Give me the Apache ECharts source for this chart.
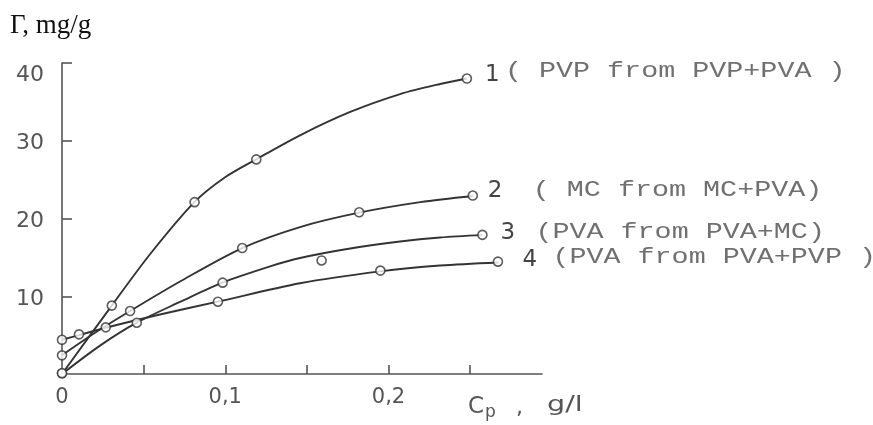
<!DOCTYPE html>
<html>
<head>
<meta charset="utf-8">
<script src="https://cdn.jsdelivr.net/npm/echarts@6/dist/echarts.min.js"></script>
<style>
  html, body { margin: 0; padding: 0; background: #fff; }
  #chart { width: 873px; height: 425px; }
</style>
</head>
<body>
<div id="chart"></div>
<script>
// Adsorption isotherms: polymer concentration Cp (g/l) vs adsorbed amount Γ (mg/g)

// Measured points (open circles)
const cpPvpFromPvpPva = [0, 0.0305, 0.0812, 0.119, 0.248];
const gammaPvpFromPvpPva = [0.1, 8.8, 22.1, 27.6, 38.0];

const cpMcFromMcPva = [0, 0.0417, 0.1104, 0.182, 0.2516];
const gammaMcFromMcPva = [2.4, 8.1, 16.2, 20.8, 22.95];

const cpPvaFromPvaMc = [0, 0.0458, 0.0984, 0.159, 0.2575];
const gammaPvaFromPvaMc = [0.1, 6.6, 11.75, 14.6, 17.9];

const cpPvaFromPvaPvp = [0, 0.0104, 0.0268, 0.0955, 0.195, 0.267];
const gammaPvaFromPvaPvp = [4.4, 5.1, 6.0, 9.3, 13.3, 14.45];

// Hand-drawn smoothing curves through the measurements
const cpCurve1 = [0, 0.0305, 0.0539, 0.0811, 0.0999, 0.1189, 0.1458, 0.1765, 0.2071, 0.2316, 0.248];
const gammaCurve1 = [0, 8.8, 15.4, 22.1, 25.3, 27.6, 30.7, 33.7, 36.0, 37.3, 38.0];

const cpCurve2 = [0, 0.0202, 0.0417, 0.0723, 0.1104, 0.1458, 0.182, 0.2194, 0.2516];
const gammaCurve2 = [2.4, 5.3, 8.1, 11.9, 16.2, 18.9, 20.75, 22.1, 22.9];

const cpCurve3 = [0, 0.0233, 0.0458, 0.0723, 0.0982, 0.1275, 0.1458, 0.1765, 0.2071, 0.2316, 0.2575];
const gammaCurve3 = [0, 3.65, 6.6, 9.27, 11.75, 13.85, 14.92, 16.14, 17.04, 17.56, 17.9];

const cpCurve4 = [0, 0.0104, 0.0268, 0.06, 0.0954, 0.1458, 0.1949, 0.2316, 0.2673];
const gammaCurve4 = [4.4, 5.0, 5.95, 7.65, 9.3, 11.67, 13.2, 13.95, 14.35];

const curveNumbers = ['1', '2', '3', '4'];
const curveNames = ['( PVP from PVP+PVA )', '( MC from MC+PVA)', '(PVA from PVA+MC)', '(PVA from PVA+PVP )'];

const xTickValues = [0.05, 0.1, 0.15, 0.2, 0.25];
const xLabelValues = [0, 0.1, 0.2];
const yTickValues = [10, 20, 30, 40];
const yLabelValues = [10, 20, 30, 40];

const INK = '#333';
const AXIS = '#555';
const GREY_TEXT = '#555';

function zip(xs, ys) { return xs.map((x, i) => [x, ys[i]]); }

const curves = [
  zip(cpCurve1, gammaCurve1),
  zip(cpCurve2, gammaCurve2),
  zip(cpCurve3, gammaCurve3),
  zip(cpCurve4, gammaCurve4)
];
const measured = [
  zip(cpPvpFromPvpPva, gammaPvpFromPvpPva),
  zip(cpMcFromMcPva, gammaMcFromMcPva),
  zip(cpPvaFromPvaMc, gammaPvaFromPvaMc),
  zip(cpPvaFromPvaPvp, gammaPvaFromPvaPvp)
];

const chart = echarts.init(document.getElementById('chart'), null, { renderer: 'canvas' });

const series = [];
curves.forEach((data, i) => {
  series.push({
    type: 'line',
    name: 'curve ' + curveNumbers[i],
    data: data,
    smooth: 0.3,
    showSymbol: false,
    symbol: 'none',
    lineStyle: { color: INK, width: 1.9 },
    emphasis: { disabled: true },
    z: 2
  });
});
measured.forEach((data, i) => {
  series.push({
    type: 'scatter',
    name: 'points ' + curveNumbers[i],
    data: data,
    symbol: 'circle',
    symbolSize: 9,
    itemStyle: { color: '#fff', borderColor: INK, borderWidth: 1.6 },
    emphasis: { disabled: true },
    z: 3
  });
});

const option = {
  animation: false,
  backgroundColor: '#fff',
  grid: { left: 62, top: 63, width: 480, height: 311, containLabel: false },
  xAxis: {
    type: 'value',
    min: 0,
    max: 0.294,
    splitLine: { show: false },
    axisLine: { show: true, onZero: false, lineStyle: { color: AXIS, width: 1.6 } },
    axisTick: { show: true, inside: true, length: 9, customValues: xTickValues, lineStyle: { color: AXIS, width: 1.6 } },
    axisLabel: {
      customValues: xLabelValues,
      margin: 13,
      color: GREY_TEXT,
      fontFamily: 'DejaVu Sans',
      fontSize: 21,
      formatter: v => v === 0 ? '0' : v.toFixed(1).replace('.', ',')
    }
  },
  yAxis: {
    type: 'value',
    min: 0,
    max: 40,
    splitLine: { show: false },
    axisLine: { show: true, onZero: false, lineStyle: { color: AXIS, width: 1.6 } },
    axisTick: { show: true, inside: true, length: 10, customValues: yTickValues, lineStyle: { color: AXIS, width: 1.6 } },
    axisLabel: {
      customValues: yLabelValues,
      margin: 18,
      color: GREY_TEXT,
      fontFamily: 'DejaVu Sans',
      fontSize: 22,
      formatter: v => v === 40 ? '{top|' + v + '}' : '{n|' + v + '}',
      rich: {
        top: { fontFamily: 'DejaVu Sans', fontSize: 22, color: GREY_TEXT, padding: [24, 0, 0, 0] },
        n: { fontFamily: 'DejaVu Sans', fontSize: 22, color: GREY_TEXT, padding: [6, 0, 0, 0] }
      }
    }
  },
  series: series
};

chart.setOption(option);

// Curve captions placed next to each curve's last point
const captionOffsets = [
  { num: [18, -4], name: [38, -7] },
  { num: [15, -5], name: [60, -6] },
  { num: [18, -2], name: [53, -3] },
  { num: [24, -2], name: [54, -5] }
];

const graphics = [];
curves.forEach((data, i) => {
  const last = data[data.length - 1];
  const p = chart.convertToPixel({ gridIndex: 0 }, last);
  const off = captionOffsets[i];
  graphics.push({
    type: 'text',
    x: p[0] + off.num[0],
    y: p[1] + off.num[1],
    style: { text: curveNumbers[i], font: '23px "DejaVu Sans"', fill: '#444', align: 'left', verticalAlign: 'middle' }
  });
  graphics.push({
    type: 'text',
    x: p[0] + off.name[0],
    y: p[1] + off.name[1],
    scaleX: 1.29,
    style: { text: curveNames[i], font: '22px "Liberation Mono"', fill: '#707070', align: 'left', verticalAlign: 'middle' }
  });
});

// Axis titles
graphics.push({
  type: 'text',
  x: 10,
  y: 26,
  style: { text: 'Γ, mg/g', font: '27px "Liberation Serif"', fill: '#111', align: 'left', verticalAlign: 'middle' }
});
graphics.push({
  type: 'text', x: 468, y: 407,
  style: { text: 'C', font: '23px "DejaVu Sans"', fill: GREY_TEXT, align: 'left', verticalAlign: 'middle' }
});
graphics.push({
  type: 'text', x: 485, y: 413,
  style: { text: 'p', font: '17px "DejaVu Sans"', fill: GREY_TEXT, align: 'left', verticalAlign: 'middle' }
});
graphics.push({
  type: 'text', x: 516, y: 408,
  style: { text: ',', font: '22px "DejaVu Sans"', fill: GREY_TEXT, align: 'left', verticalAlign: 'middle' }
});
graphics.push({
  type: 'text', x: 547, y: 405, scaleX: 1.3,
  style: { text: 'g/l', font: '22px "DejaVu Sans"', fill: GREY_TEXT, align: 'left', verticalAlign: 'middle' }
});

chart.setOption({ graphic: graphics });
</script>
</body>
</html>
